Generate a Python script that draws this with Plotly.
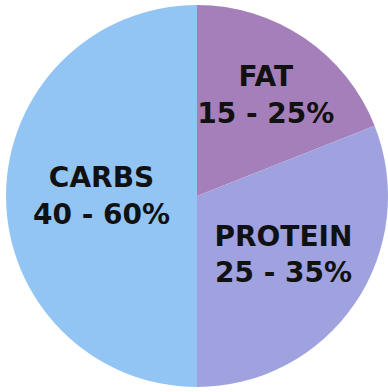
import plotly.graph_objects as go

labels = ["FAT", "PROTEIN", "CARBS"]
ranges = ["15 - 25%", "25 - 35%", "40 - 60%"]
values = [19, 31, 50]
colors = ["#A57FBA", "#9FA2DE", "#93C5F4"]

texts = [f"{l}<br>{r}" for l, r in zip(labels, ranges)]

fig = go.Figure(go.Pie(
    labels=labels,
    values=values,
    text=texts,
    textinfo="text",
    textposition="inside",
    insidetextorientation="horizontal",
    sort=False,
    direction="clockwise",
    rotation=0,
    domain=dict(x=[0.0155, 1], y=[0, 1]),
    marker=dict(colors=colors, line=dict(width=0)),
    textfont=dict(family="DejaVu Sans", size=28, color="#111111", weight="bold"),
    showlegend=False,
    hoverinfo="skip",
))
fig.update_layout(
    width=388, height=392,
    margin=dict(l=0, r=0, t=0, b=0),
    paper_bgcolor="white",
    uniformtext=dict(minsize=28, mode="show"),
)
fig.write_html("out.html")
